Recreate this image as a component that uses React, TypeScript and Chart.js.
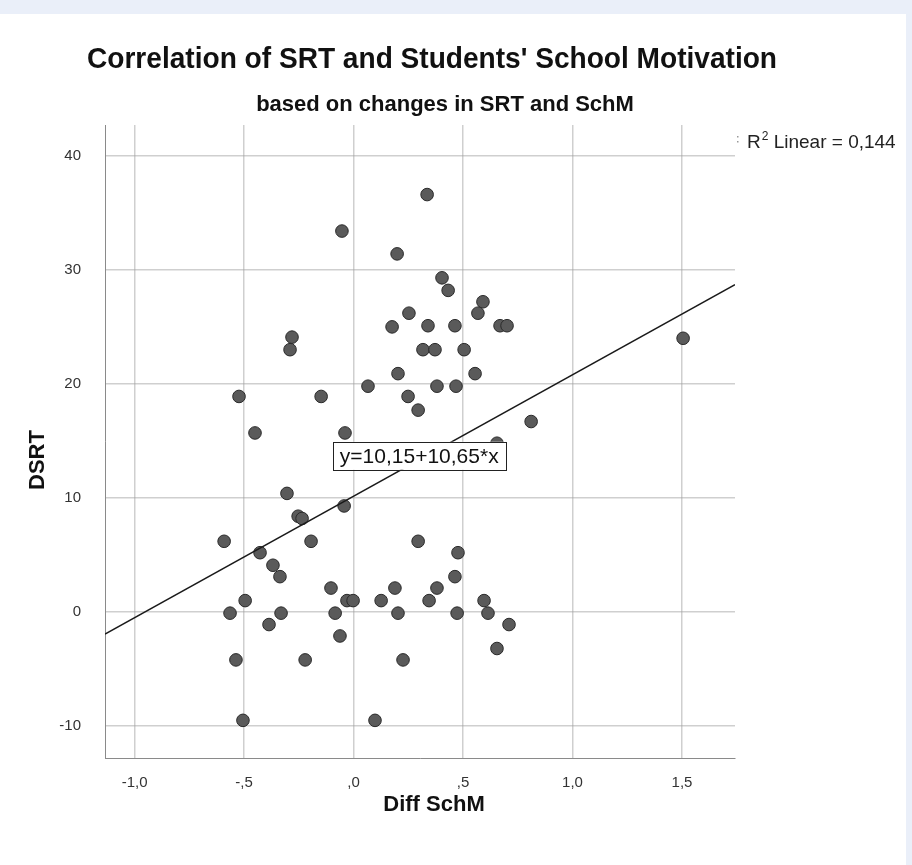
import React, { useEffect, useRef } from "react";
import { Chart, registerables } from "chart.js";

Chart.register(...registerables);

// ---- data ----
const diffSchM = [
  0.336, -0.053, 0.199, 0.404, 0.432, 0.591, 0.568, 0.253, 0.176, 0.34,
  0.463, 0.669, 0.701, -0.281, -0.29, 0.317, 0.372, 0.505, 0.203, 0.555,
  0.066, 0.381, 0.468, -0.523, -0.148, 0.249, 0.295, 1.505, 0.811, -0.45,
  -0.039, 0.655, -0.304, -0.043, -0.253, -0.235, -0.591, -0.194, 0.295, -0.427,
  0.477, -0.368, -0.336, 0.463, -0.103, 0.189, 0.381, -0.495, -0.03, -0.002,
  0.126, 0.345, 0.596, -0.564, -0.331, -0.084, 0.203, 0.473, 0.614, -0.386,
  0.71, -0.062, 0.655, -0.537, -0.221, 0.226, -0.505, 0.098,
];
const dsrt = [
  36.6, 33.4, 31.4, 29.3, 28.2, 27.2, 26.2, 26.2, 25.0, 25.1,
  25.1, 25.1, 25.1, 24.1, 23.0, 23.0, 23.0, 23.0, 20.9, 20.9,
  19.8, 19.8, 19.8, 18.9, 18.9, 18.9, 17.7, 24.0, 16.7, 15.7,
  15.7, 14.8, 10.4, 9.3, 8.4, 8.2, 6.2, 6.2, 6.2, 5.2,
  5.2, 4.1, 3.1, 3.1, 2.1, 2.1, 2.1, 1.0, 1.0, 1.0,
  1.0, 1.0, 1.0, -0.1, -0.1, -0.1, -0.1, -0.1, -0.1, -1.1,
  -1.1, -2.1, -3.2, -4.2, -4.2, -4.2, -9.5, -9.5,
];
const xTickValues = [-1.0, -0.5, 0, 0.5, 1.0, 1.5];
const xTickLabels = ["-1,0", "-,5", ",0", ",5", "1,0", "1,5"];
const yTickValues = [-10, 0, 10, 20, 30, 40];
const yTickLabels = ["-10", "0", "10", "20", "30", "40"];
const xRange = [-1.135, 1.742];
const yRange = [-12.8, 42.7];
const fitIntercept = 10.15;
const fitSlope = 10.65;
const equationText = "y=10,15+10,65*x";
const equationAnchor = [0.3, 13.7];
const rSquaredText = "0,144";

const titleText = "Correlation of SRT and Students' School Motivation";
const subtitleText = "based on changes in SRT and SchM";
const xTitle = "Diff SchM";
const yTitle = "DSRT";

const FONT = "'Liberation Sans', Arial, Helvetica, sans-serif";

export default function App() {
  const ref = useRef<HTMLCanvasElement | null>(null);

  useEffect(() => {
    const canvas = ref.current;
    if (!canvas) return;

    const bgPlugin = {
      id: "bg",
      beforeDraw(chart: any) {
        const ctx = chart.ctx;
        ctx.save();
        ctx.fillStyle = "#eaeff9";
        ctx.fillRect(0, 0, chart.width, chart.height);
        ctx.fillStyle = "#ffffff";
        ctx.fillRect(0, 14, 906, chart.height - 14);
        ctx.restore();
      },
    };

    const textPlugin = {
      id: "texts",
      afterDraw(chart: any) {
        const ctx = chart.ctx;
        const xs = chart.scales.x;
        const ys = chart.scales.y;
        ctx.save();
        ctx.fillStyle = "#111";
        ctx.textAlign = "center";
        ctx.textBaseline = "alphabetic";
        // title
        ctx.font = `bold 29px ${FONT}`;
        ctx.fillText(titleText, 432, 68, 690);
        // subtitle
        ctx.font = `bold 22px ${FONT}`;
        ctx.fillText(subtitleText, 445, 111, 420);
        // x title
        ctx.font = `bold 22px ${FONT}`;
        ctx.textBaseline = "middle";
        ctx.fillText(xTitle, 434, 805);
        // y title
        ctx.save();
        ctx.translate(38, 460);
        ctx.rotate(-Math.PI / 2);
        ctx.fillText(yTitle, 0, 0);
        ctx.restore();

        // R2 legend
        ctx.textAlign = "left";
        ctx.textBaseline = "alphabetic";
        ctx.fillStyle = "#222";
        let lx = 747;
        const ly = 148;
        ctx.font = `19px ${FONT}`;
        ctx.fillText("R", lx, ly);
        lx += ctx.measureText("R").width + 1;
        ctx.font = `12px ${FONT}`;
        ctx.fillText("2", lx, ly - 8);
        lx += ctx.measureText("2").width;
        ctx.font = `19px ${FONT}`;
        ctx.fillText(" Linear = " + rSquaredText, lx, ly, 903 - lx);
        ctx.fillStyle = "#999";
        ctx.fillRect(737, 136, 1.5, 1.5);
        ctx.fillRect(737, 141, 1.5, 1.5);

        // equation box
        const cx = xs.getPixelForValue(equationAnchor[0]);
        const cy = ys.getPixelForValue(equationAnchor[1]);
        ctx.font = `21px ${FONT}`;
        const w = ctx.measureText(equationText).width + 14;
        const h = 28;
        ctx.fillStyle = "#ffffff";
        ctx.fillRect(cx - w / 2, cy - h / 2, w, h);
        ctx.strokeStyle = "#222";
        ctx.lineWidth = 1;
        ctx.strokeRect(Math.round(cx - w / 2) + 0.5, Math.round(cy - h / 2) + 0.5, Math.round(w), h);
        ctx.fillStyle = "#111";
        ctx.textAlign = "center";
        ctx.textBaseline = "middle";
        ctx.fillText(equationText, cx, cy + 1);
        ctx.restore();
      },
    };

    const points = diffSchM.map((x, i) => ({ x, y: dsrt[i] }));
    const fitLine = [xRange[0], xRange[1]].map((x) => ({ x, y: fitIntercept + fitSlope * x }));

    const chart = new Chart(canvas, {
      type: "scatter",
      data: {
        datasets: [
          {
            type: "line",
            label: "fit",
            data: fitLine,
            borderColor: "#1a1a1a",
            borderWidth: 1.5,
            pointRadius: 0,
            fill: false,
            order: 0,
          } as any,
          {
            label: "DSRT",
            data: points,
            backgroundColor: "#5a5a5a",
            borderColor: "#2a2a2a",
            borderWidth: 1,
            pointRadius: 6.3,
            order: 1,
          },
        ],
      },
      plugins: [bgPlugin, textPlugin],
      options: {
        responsive: false,
        animation: false,
        devicePixelRatio: 1,
        layout: { padding: { top: 125, right: 177, left: 0, bottom: 0 } },
        plugins: {
          legend: { display: false },
          tooltip: { enabled: false },
          title: { display: false },
        },
        scales: {
          x: {
            type: "linear",
            min: xRange[0],
            max: xRange[1],
            afterBuildTicks: (s: any) => {
              s.ticks = xTickValues.map((v) => ({ value: v }));
            },
            afterFit: (s: any) => {
              s.height = 107;
            },
            ticks: {
              autoSkip: false,
              maxRotation: 0,
              padding: 16,
              color: "#333",
              font: { family: FONT, size: 15 },
              callback: (v: any) => {
                const i = xTickValues.findIndex((t) => Math.abs(t - Number(v)) < 1e-9);
                return i >= 0 ? xTickLabels[i] : "";
              },
            },
            grid: { color: "rgba(160,160,160,0.5)", lineWidth: 1.5, drawTicks: false },
            border: { display: true, color: "#8a8a8a", width: 1 },
          },
          y: {
            type: "linear",
            min: yRange[0],
            max: yRange[1],
            afterBuildTicks: (s: any) => {
              s.ticks = yTickValues.map((v) => ({ value: v }));
            },
            afterFit: (s: any) => {
              s.width = 105;
            },
            ticks: {
              autoSkip: false,
              padding: 24,
              color: "#333",
              font: { family: FONT, size: 15 },
              callback: (v: any) => {
                const i = yTickValues.findIndex((t) => Math.abs(t - Number(v)) < 1e-9);
                return i >= 0 ? yTickLabels[i] : "";
              },
            },
            grid: { color: "rgba(160,160,160,0.5)", lineWidth: 1.5, drawTicks: false },
            border: { display: true, color: "#8a8a8a", width: 1 },
          },
        },
      },
    });

    return () => chart.destroy();
  }, []);

  return (
    <div style={{ position: "fixed", left: 0, top: 0, width: 912, height: 865 }}>
      <canvas ref={ref} width={912} height={865} style={{ display: "block", width: 912, height: 865 }} />
    </div>
  );
}
